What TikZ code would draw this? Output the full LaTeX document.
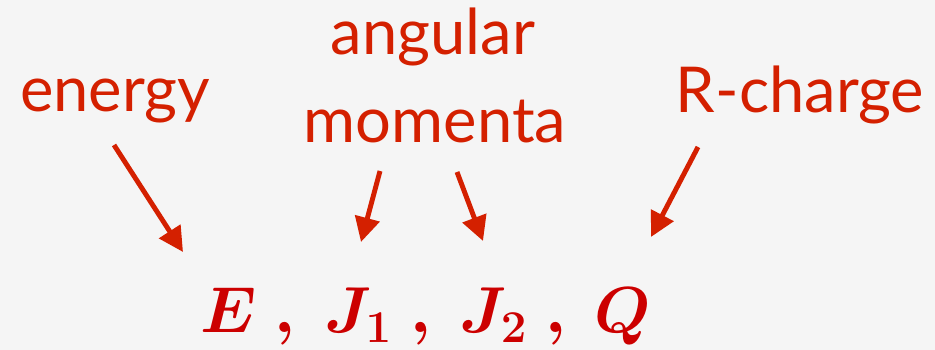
\RequirePackage{fix-cm}
\documentclass[tikz,border=0pt]{standalone}
\usepackage{amsmath,bm}
\usepackage{fontspec}
\usepackage{tikz}
\usetikzlibrary{arrows.meta}
\newfontfamily\labelfont{Lato}
\definecolor{bgpanel}{HTML}{F5F5F5}
\definecolor{labelred}{HTML}{D42000}
\definecolor{chargered}{HTML}{CC0000}

\begin{document}
\begin{tikzpicture}[x=0.02cm,y=-0.02cm,
  lbl/.style={text=labelred,anchor=base,inner sep=0pt,font=\labelfont\fontsize{36}{40}\selectfont},
  every edge/.style={draw=labelred,line width=2.8pt,-{Triangle[length=14pt,width=14pt]}}]
\fill[bgpanel] (0,0) rectangle (935,350);
\useasboundingbox (0,0) rectangle (935,350);
\node[lbl] (en) at (115,112) {energy};
\node[lbl] (an) at (433,55) {angular};
\node[lbl] (mo) at (435,143) {momenta};
\node[lbl] (rc) at (800,113) {R-charge};
\node[text=chargered,anchor=base,inner sep=0pt,font=\fontsize{37}{40}\selectfont] (qn) at (426,333)
  {$\bm{E\;,\;J_1\;,\;J_2\;,\;Q}$};
% arrow ends
\coordinate (enT) at (114,145); \coordinate (enH) at (183,252);
\coordinate (j1T) at (380,171); \coordinate (j1H) at (361,242);
\coordinate (j2T) at (457,172); \coordinate (j2H) at (483,241);
\coordinate (rcT) at (698,147); \coordinate (rcH) at (651,237);
\draw (enT) edge (enH) (j1T) edge (j1H) (j2T) edge (j2H) (rcT) edge (rcH);
\end{tikzpicture}
\end{document}
